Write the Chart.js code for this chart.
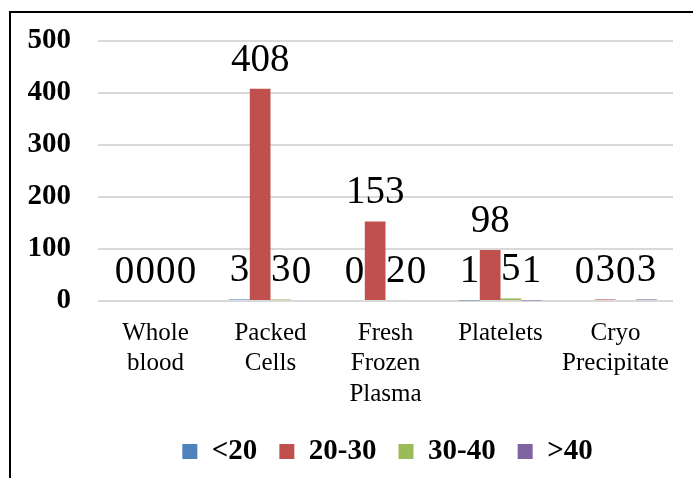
<!DOCTYPE html>
<html>
<head>
<meta charset="utf-8">
<script src="https://cdn.jsdelivr.net/npm/chart.js@4.4.0/dist/chart.umd.min.js"></script>
<style>
html, body { margin: 0; padding: 0; background: #fff; overflow: hidden; }
#wrap { position: relative; width: 693px; height: 478px; overflow: hidden; }
#frame { position: absolute; left: 9px; top: 11px; width: 760px; height: 560px; border: 2px solid #000; box-sizing: border-box; }
canvas { position: absolute; left: 0; top: 0; }
</style>
</head>
<body>
<div id="wrap">
  <div id="frame"></div>
  <canvas id="chart" width="693" height="478"></canvas>
</div>
<script>
var categories = [['Whole', 'blood'], ['Packed', 'Cells'], ['Fresh', 'Frozen', 'Plasma'], ['Platelets'], ['Cryo', 'Precipitate']];
var seriesNames = ['<20', '20-30', '30-40', '>40'];
var under20 = [0, 3, 0, 1, 0];
var from20to30 = [0, 408, 153, 98, 3];
var from30to40 = [0, 3, 2, 5, 0];
var over40 = [0, 0, 0, 1, 3];
var yTicks = [0, 100, 200, 300, 400, 500];

var colors = ['#4F81BD', '#C0504D', '#9BBB59', '#8064A2'];
var serif = '"Liberation Serif", "Times New Roman", serif';

// value labels above each bar, like Excel "outside end"
var valueLabels = {
    id: 'valueLabels',
    afterDatasetsDraw: function(chart) {
        var ctx = chart.ctx;
        ctx.save();
        ctx.font = '39px ' + serif;
        ctx.fillStyle = '#000';
        ctx.textAlign = 'center';
        ctx.textBaseline = 'alphabetic';
        chart.data.datasets.forEach(function(ds, i) {
            var meta = chart.getDatasetMeta(i);
            meta.data.forEach(function(bar, j) {
                ctx.fillText(String(ds.data[j]), bar.x, bar.y - 18);
            });
        });
        ctx.restore();
    }
};

// nudge the legend to sit under the plot like the original
var legendShift = {
    id: 'legendShift',
    afterLayout: function(chart) {
        if (chart.legend) {
            chart.legend.left += 37;
            chart.legend.right += 37;
        }
    }
};

var ctx = document.getElementById('chart').getContext('2d');

var chart = new Chart(ctx, {
    type: 'bar',
    data: {
        labels: categories,
        datasets: [
            { label: seriesNames[0], data: under20, backgroundColor: colors[0] },
            { label: seriesNames[1], data: from20to30, backgroundColor: colors[1] },
            { label: seriesNames[2], data: from30to40, backgroundColor: colors[2] },
            { label: seriesNames[3], data: over40, backgroundColor: colors[3] }
        ]
    },
    options: {
        responsive: false,
        animation: false,
        categoryPercentage: 0.72,
        barPercentage: 1,
        layout: {
            padding: { left: 28, right: 20, top: 41, bottom: 2 }
        },
        scales: {
            x: {
                grid: { display: false, drawTicks: false },
                border: { display: false },
                afterFit: function(axis) { axis.height -= 11.5; },
                ticks: {
                    padding: 17,
                    color: '#000',
                    maxRotation: 0,
                    autoSkip: false,
                    font: { family: serif, size: 25, lineHeight: 1.22 }
                }
            },
            y: {
                min: 0,
                max: 500,
                afterBuildTicks: function(axis) {
                    axis.ticks = yTicks.map(function(v) { return { value: v }; });
                },
                afterFit: function(axis) {
                    axis.width = 70;
                    axis.paddingTop = 0;
                    axis.paddingBottom = 0;
                },
                grid: { color: '#D9D9D9', lineWidth: 2, drawTicks: false },
                border: { display: false },
                ticks: {
                    padding: 27,
                    color: '#000',
                    font: { family: serif, size: 29, weight: 'bold' }
                }
            }
        },
        plugins: {
            legend: {
                position: 'bottom',
                labels: {
                    boxWidth: 15,
                    boxHeight: 15,
                    padding: 22,
                    color: '#000',
                    font: { family: serif, size: 29, weight: 'bold' }
                }
            },
            tooltip: { enabled: false }
        }
    },
    plugins: [valueLabels, legendShift]
});
</script>
</body>
</html>
